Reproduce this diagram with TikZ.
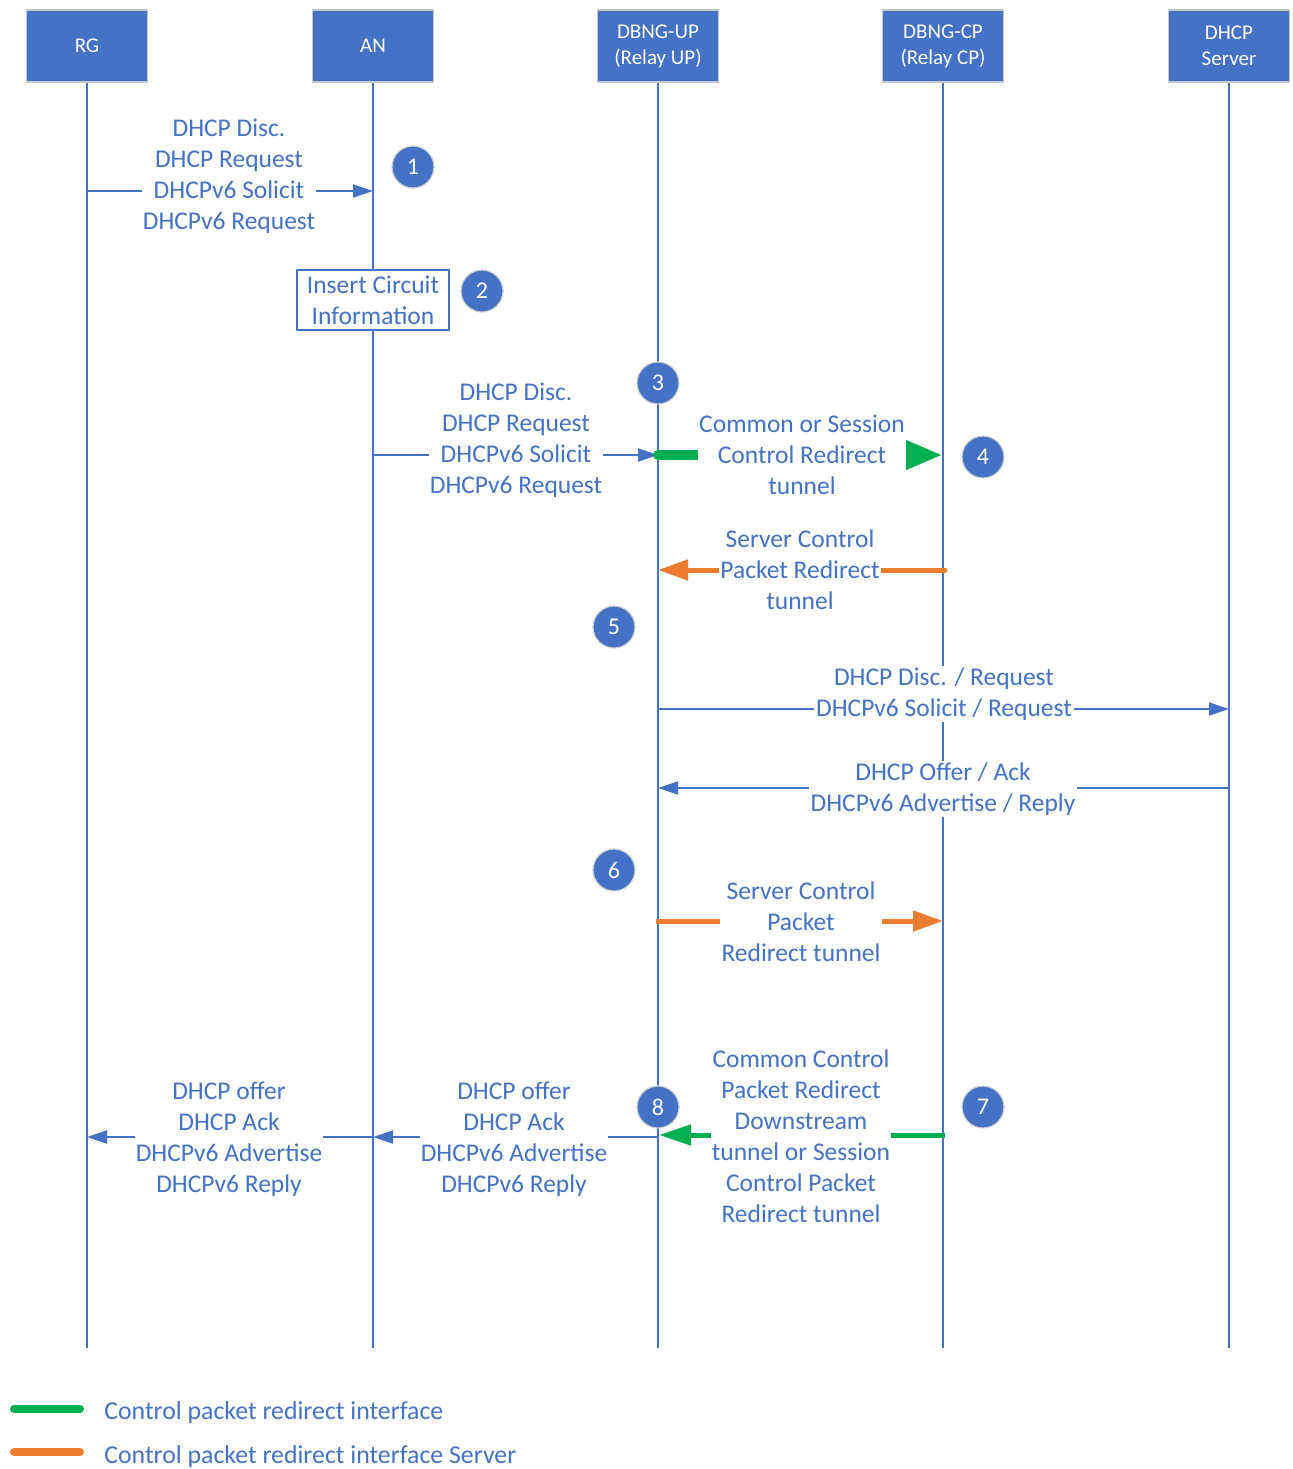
\documentclass[tikz,border=0pt]{standalone}
\usepackage{fontspec}
\setmainfont{Carlito}
\usetikzlibrary{arrows.meta}
\definecolor{acc}{HTML}{4472C4}
\definecolor{grn}{HTML}{00B050}
\definecolor{org}{HTML}{ED7D31}
\begin{document}
\begin{tikzpicture}[x=0.5pt,y=-0.5pt,
  head/.style={fill=acc, draw=black!22, line width=0.6pt, minimum width=60.5pt, minimum height=36pt,
    text=white, font=\fontsize{10.5}{13}\selectfont, align=center, inner sep=0pt},
  life/.style={draw=acc, line width=1pt},
  msg/.style={draw=acc, line width=1pt, -{Triangle[length=10pt,width=6.5pt]}},
  lbl/.style={fill=white, text=acc, font=\fontsize{12.75}{15.5}\selectfont, align=center, inner sep=0.6pt},
  badge/.style={circle, fill=acc, draw=black!18, line width=0.6pt, minimum size=21pt, inner sep=0pt,
    text=white, font=\fontsize{12}{14}\selectfont},
  gthick/.style={draw=grn, line width=5pt, line cap=round, -{Triangle[length=18.5pt,width=13.5pt]}},
  gthin/.style={draw=grn, line width=2.5pt, -{Triangle[length=16pt,width=10pt]}},
  oarrow/.style={draw=org, line width=2.5pt, -{Triangle[length=15pt,width=10pt]}},
  legline/.style={line width=4pt, line cap=round},
  legtext/.style={text=acc, font=\fontsize{12.9}{15.5}\selectfont, anchor=west, inner sep=0pt}
]
\useasboundingbox (0,0) rectangle (1293,1469);

% participants
\node[head] (rg)  at (87,46)    {RG};
\node[head] (an)  at (373,46)   {AN};
\node[head] (up)  at (658,46)   {DBNG-UP\\(Relay UP)};
\node[head] (cp)  at (943,46)   {DBNG-CP\\(Relay CP)};
\node[head] (srv) at (1229,46)  {DHCP\\Server};

% lifeline ends
\coordinate (rgE)  at (87,1348);
\coordinate (anE)  at (373,1348);
\coordinate (upE)  at (658,1348);
\coordinate (cpE)  at (943,1348);
\coordinate (srvE) at (1229,1348);

\draw[life] (rg.south)  -- (rgE);
\draw[life] (an.south)  -- (anE);
\draw[life] (up.south)  -- (upE);
\draw[life] (cp.south)  -- (cpE);
\draw[life] (srv.south) -- (srvE);

% message anchor points on the lifelines
\coordinate (rg1) at (87,191);   \coordinate (an1) at (373,191);
\coordinate (an3) at (373,455);  \coordinate (up3) at (658,455);
\coordinate (cp4) at (943,455);
\coordinate (cp5) at (945,570);  \coordinate (up5) at (658,570);
\coordinate (up6) at (658,709);  \coordinate (sv6) at (1229,709);
\coordinate (sv7) at (1229,788); \coordinate (up7) at (658,788);
\coordinate (up8) at (656,921);  \coordinate (cp8) at (943,921);
\coordinate (cp9) at (945,1135); \coordinate (up9) at (659,1135);
\coordinate (upA) at (658,1137); \coordinate (anA) at (373,1137);
\coordinate (anB) at (373,1137); \coordinate (rgB) at (87,1137);

% connectors
\draw[msg] (rg1) -- (an1);
\draw[msg] (an3) -- (up3);
\draw[gthick] (up3) -- (cp4);
\draw[oarrow, line cap=round] (cp5) -- (up5);
\draw[msg] (up6) -- (sv6);
\draw[msg] (sv7) -- (up7);
\draw[oarrow] (up8) -- (cp8);
\draw[gthin] (cp9) -- (up9);
\draw[msg] (upA) -- (anA);
\draw[msg] (anB) -- (rgB);

% labels
\node[lbl] (l1) at (229,176) {DHCP Disc.\\DHCP Request\\DHCPv6 Solicit\\DHCPv6 Request};
\node[lbl, draw=acc, line width=0.8pt, minimum width=76pt, minimum height=30pt, inner sep=1pt] (ins) at (373,300) {Insert Circuit\\Information};
\node[lbl] (l3) at (516,440) {DHCP Disc.\\DHCP Request\\DHCPv6 Solicit\\DHCPv6 Request};
\node[lbl] (l4) at (802,455) {Common or Session\\Control Redirect\\tunnel};
\node[lbl] (l5) at (800,570) {Server Control\\Packet Redirect\\tunnel};
\node[lbl, inner sep=1pt] (l6) at (944,694) {DHCP Disc. / Request\\DHCPv6 Solicit / Request};
\node[lbl, inner sep=1pt] (l7) at (943,789) {DHCP Offer / Ack\\DHCPv6 Advertise / Reply};
\node[lbl] (l8) at (801,922) {Server Control\\Packet\\Redirect tunnel};
\node[lbl] (l9) at (801,1136) {Common Control\\Packet Redirect\\Downstream\\tunnel or Session\\Control Packet\\Redirect tunnel};
\node[lbl] (lA) at (514,1139) {DHCP offer\\DHCP Ack\\DHCPv6 Advertise\\DHCPv6 Reply};
\node[lbl] (lB) at (229,1139) {DHCP offer\\DHCP Ack\\DHCPv6 Advertise\\DHCPv6 Reply};

% step numbers
\node[badge] (b1) at (413,167)  {1};
\node[badge] (b2) at (482,291)  {2};
\node[badge] (b3) at (658,383)  {3};
\node[badge] (b4) at (983,457)  {4};
\node[badge] (b5) at (614,627)  {5};
\node[badge] (b6) at (614,870)  {6};
\node[badge] (b7) at (983,1107) {7};
\node[badge] (b8) at (658,1107) {8};

% legend
\coordinate (g0) at (14,1409); \coordinate (g1) at (80,1409);
\coordinate (o0) at (14,1452); \coordinate (o1) at (80,1452);
\draw[legline, grn] (g0) -- (g1);
\draw[legline, org] (o0) -- (o1);
\node[legtext] (tg) at (104,1413) {Control packet redirect interface};
\node[legtext] (to) at (104,1457) {Control packet redirect interface Server};
\end{tikzpicture}
\end{document}
